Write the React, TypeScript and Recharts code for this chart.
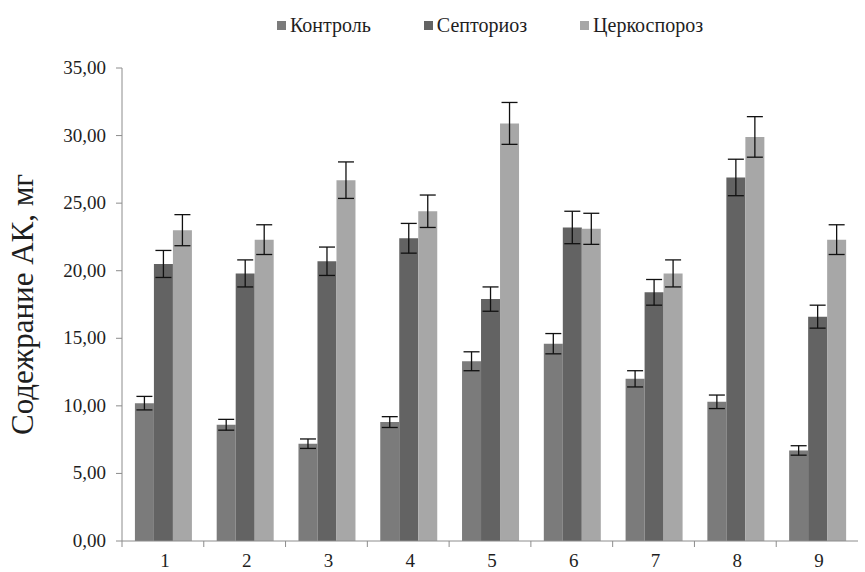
import { Bar, BarChart, ErrorBar, XAxis, YAxis, Label } from "recharts";

const groups = ["1", "2", "3", "4", "5", "6", "7", "8", "9"];
const control = [10.2, 8.6, 7.2, 8.8, 13.3, 14.6, 12.0, 10.3, 6.7];
const septoria = [20.5, 19.8, 20.7, 22.4, 17.9, 23.2, 18.4, 26.9, 16.6];
const cercospora = [23.0, 22.3, 26.7, 24.4, 30.9, 23.1, 19.8, 29.9, 22.3];
const controlErr = [0.5, 0.4, 0.35, 0.4, 0.7, 0.75, 0.6, 0.5, 0.35];
const septoriaErr = [1.0, 1.0, 1.05, 1.1, 0.9, 1.2, 0.95, 1.35, 0.85];
const cercosporaErr = [1.15, 1.1, 1.35, 1.2, 1.55, 1.15, 1.0, 1.5, 1.1];
const yTicks = [0, 5, 10, 15, 20, 25, 30, 35];

const data = groups.map((g, i) => ({
  group: g,
  control: control[i],
  septoria: septoria[i],
  cercospora: cercospora[i],
  controlErr: controlErr[i],
  septoriaErr: septoriaErr[i],
  cercosporaErr: cercosporaErr[i],
}));

const FONT = "'Liberation Serif', 'Times New Roman', serif";
const AXIS = "#8c8c8c";
const TEXT = "#1e1e1e";

const series = [
  { key: "control", err: "controlErr", name: "Контроль", color: "#7b7b7b" },
  { key: "septoria", err: "septoriaErr", name: "Септориоз", color: "#636363" },
  { key: "cercospora", err: "cercosporaErr", name: "Церкоспороз", color: "#a7a7a7" },
];

function TopLegend() {
  return (
    <div
      style={{
        position: "absolute",
        top: 13,
        left: 122,
        width: 736,
        display: "flex",
        justifyContent: "center",
        gap: 53,
        fontFamily: FONT,
        fontSize: 20,
        color: TEXT,
        lineHeight: "24px",
      }}
    >
      {series.map((s) => (
        <span key={s.name} style={{ display: "inline-flex", alignItems: "center" }}>
          <span style={{ width: 9, height: 9, background: s.color, marginRight: 4, display: "inline-block" }} />
          {s.name}
        </span>
      ))}
    </div>
  );
}

function XTick(props: any) {
  const { x, y, payload } = props;
  const band = (865 - 122 - 7) / groups.length;
  return (
    <g>
      <line x1={x - band / 2} x2={x - band / 2} y1={y - 8} y2={y - 2} stroke={AXIS} />
      <text x={x + 2} y={y + 18} textAnchor="middle" style={{ fontFamily: FONT, fontSize: 19, fill: TEXT }}>
        {payload.value}
      </text>
    </g>
  );
}

function YTick(props: any) {
  const { x, y, payload } = props;
  return (
    <text x={x} y={y + 6} textAnchor="end" style={{ fontFamily: FONT, fontSize: 19, fill: TEXT }}>
      {Number(payload.value).toFixed(2).replace(".", ",")}
    </text>
  );
}

export default function App() {
  return (
    <div style={{ position: "absolute", left: 0, top: 0, width: 865, height: 572, background: "#fff" }}>
      <BarChart
        width={865}
        height={572}
        data={data}
        margin={{ top: 68, right: 7, left: 0, bottom: 0 }}
        barCategoryGap="15.8%"
        barGap={0}
      >
        <XAxis dataKey="group" height={31} stroke={AXIS} tickLine={false} tick={<XTick />} interval={0} />
        <YAxis width={122} domain={[0, 35]} ticks={yTicks} stroke={AXIS} tickSize={6} tickMargin={10} tick={<YTick />}>
          <Label
            value="Содежрание АК, мг"
            angle={-90}
            position="insideLeft"
            offset={22}
            style={{ fontFamily: FONT, fontSize: 31, fill: TEXT, textAnchor: "middle" }}
          />
        </YAxis>
        {series.map((s) => (
          <Bar key={s.key} dataKey={s.key} name={s.name} fill={s.color} isAnimationActive={false}>
            <ErrorBar dataKey={s.err} width={8} stroke="#111" strokeWidth={1.3} />
          </Bar>
        ))}
      </BarChart>
      <TopLegend />
    </div>
  );
}
